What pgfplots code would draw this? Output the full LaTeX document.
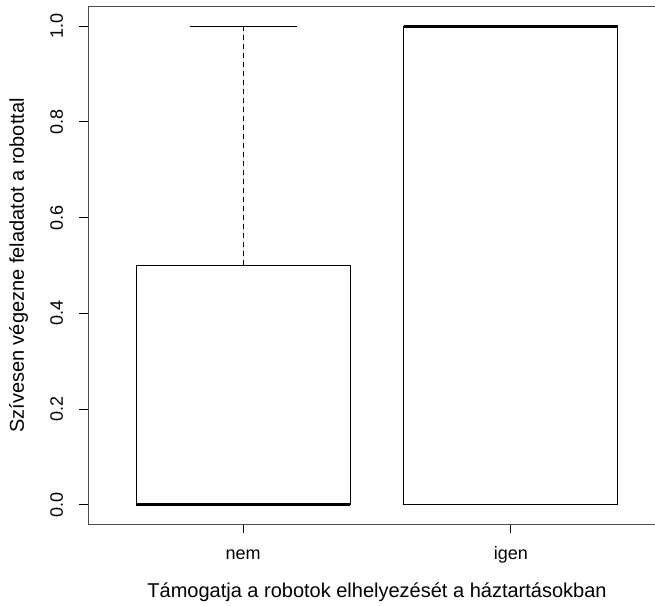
\documentclass[border=0pt]{standalone}
\usepackage{fontspec}
\setmainfont{Liberation Sans}
\usepackage{pgfplots}
\pgfplotsset{compat=1.18}
\usepgfplotslibrary{statistics}
\begin{document}
\begin{tikzpicture}
\begin{axis}[
  at={(88pt,81pt)}, anchor=south west,
  scale only axis, width=578pt, height=517pt,
  xmin=0.42, xmax=2.58, ymin=-0.04, ymax=1.04,
  axis line style={black!70, line width=1pt},
  tick style={black, line width=1pt},
  tick align=outside, major tick length=9pt,
  tick pos=left,
  xtick={1,2}, xticklabels={nem,igen},
  ytick={0,0.2,0.4,0.6,0.8,1.0},
  yticklabels={0.0,0.2,0.4,0.6,0.8,1.0},
  /pgf/number format/assume math mode=true,
  tick label style={font=\fontsize{18}{21}\selectfont},
  yticklabel style={rotate=90, anchor=base, inner sep=0pt},
  xticklabel style={anchor=base, inner sep=0pt},
  yticklabel shift=16pt,
  xticklabel shift=26pt,
  label style={font=\fontsize{20}{23}\selectfont},
  xlabel={Támogatja a robotok elhelyezését a háztartásokban},
  ylabel={Szívesen végezne feladatot a robottal},
  xlabel style={at={([yshift=-73pt]axis description cs:0.5,0)}, anchor=base, inner sep=0pt},
  ylabel style={at={([xshift=-64pt]axis description cs:0,0.5)}, anchor=base, inner sep=0pt},
  boxplot/draw direction=y,
  boxplot/box extend=0.8,
  boxplot/whisker extend=0.4,
  boxplot/every box/.style={draw=black, line width=1pt},
  boxplot/every median/.style={draw=black, line width=3pt},
  boxplot/draw/upper whisker/.code={%
    \draw[black, line width=1pt, dash pattern=on 5pt off 4pt]
      (boxplot whisker cs:\pgfplotsboxplotvalue{upper quartile},0.5) --
      (boxplot whisker cs:\pgfplotsboxplotvalue{upper whisker},0.5);
    \draw[black, line width=1pt]
      (boxplot whisker cs:\pgfplotsboxplotvalue{upper whisker},0) --
      (boxplot whisker cs:\pgfplotsboxplotvalue{upper whisker},1);
  },
  boxplot/draw/lower whisker/.code={%
    \draw[black, line width=1pt, dash pattern=on 5pt off 4pt]
      (boxplot whisker cs:\pgfplotsboxplotvalue{lower quartile},0.5) --
      (boxplot whisker cs:\pgfplotsboxplotvalue{lower whisker},0.5);
    \draw[black, line width=1pt]
      (boxplot whisker cs:\pgfplotsboxplotvalue{lower whisker},0) --
      (boxplot whisker cs:\pgfplotsboxplotvalue{lower whisker},1);
  },
]
% nem
\addplot+[black, fill=white, mark=none, boxplot prepared={
  draw position=1,
  lower whisker=0, lower quartile=0, median=0,
  upper quartile=0.5, upper whisker=1}]
  coordinates {};
% igen
\addplot+[black, fill=white, mark=none, boxplot prepared={
  draw position=2,
  lower whisker=0, lower quartile=0, median=1,
  upper quartile=1, upper whisker=1}]
  coordinates {};
\end{axis}
\pgfresetboundingbox
\useasboundingbox (0,0) rectangle (655pt,605pt);
\end{tikzpicture}
\end{document}
